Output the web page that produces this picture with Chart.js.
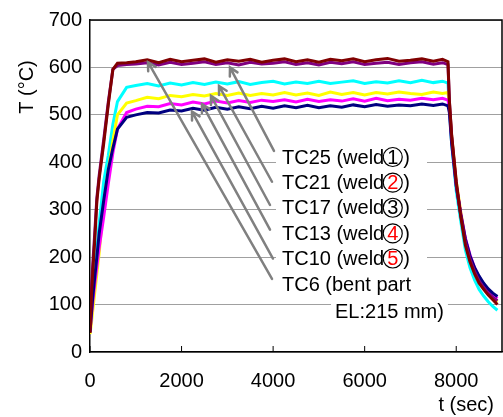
<!DOCTYPE html>
<html>
<head>
<meta charset="utf-8">
<script src="https://cdn.jsdelivr.net/npm/chart.js@4.4.1/dist/chart.umd.min.js"></script>
<style>
  html, body { margin: 0; padding: 0; background: #fff; }
  canvas { display: block; }
</style>
</head>
<body>
<canvas id="tempChart" width="503" height="417"></canvas>
<script>
// time (sec), shared by all thermocouples
const times = [0, 30, 60, 100, 150, 200, 300, 400, 500, 600, 800, 1000,
  1250, 1500, 1750, 2000, 2250, 2500, 2750, 3000, 3250, 3500, 3750, 4000, 4250,
  4500, 4750, 5000, 5250, 5500, 5750, 6000, 6250, 6500, 6750, 7000, 7250, 7500,
  7700, 7820, 7850, 7900, 8000, 8100, 8200, 8300, 8400, 8500, 8600, 8700, 8800, 8900];

// temperatures (deg C)
const tc25 = [40, 118, 168, 230, 318, 365, 440, 522, 596, 609, 610, 612,
  616, 610, 617, 612, 615, 618, 611, 616, 613, 617, 611, 615, 618,
  612, 616, 611, 617, 614, 618, 612, 616, 619, 613, 615, 618, 613,
  617, 612, 530, 458, 360, 285, 225, 190, 165, 145, 132, 120, 110, 100];
const tc6 = [45, 130, 185, 245, 325, 372, 448, 527, 596, 604, 606, 607,
  610, 605, 611, 606, 609, 612, 606, 610, 605, 611, 607, 609, 612,
  606, 610, 605, 611, 608, 612, 606, 609, 611, 606, 610, 612, 607,
  610, 606, 530, 455, 352, 288, 232, 196, 170, 150, 136, 124, 115, 108];
const tc21 = [45, 85, 120, 165, 215, 270, 360, 415, 480, 528, 558, 562,
  566, 561, 567, 563, 568, 564, 569, 565, 570, 564, 568, 571, 565,
  569, 566, 571, 566, 569, 572, 566, 570, 567, 572, 568, 573, 568,
  571, 567, 515, 440, 340, 275, 215, 178, 152, 132, 118, 106, 96, 88];
const tc17 = [38, 60, 88, 122, 165, 208, 316, 385, 445, 500, 525, 530,
  537, 534, 541, 538, 543, 540, 545, 541, 546, 541, 545, 542, 547,
  542, 546, 541, 548, 543, 547, 542, 547, 544, 548, 545, 543, 548,
  545, 547, 520, 455, 360, 295, 238, 200, 172, 152, 137, 125, 115, 106];
const tc13 = [42, 75, 105, 140, 180, 220, 285, 355, 420, 470, 505, 512,
  518, 517, 524, 521, 527, 523, 529, 525, 530, 526, 531, 528, 532,
  527, 533, 528, 532, 529, 534, 529, 535, 530, 533, 531, 535, 532,
  535, 531, 515, 450, 355, 292, 240, 205, 178, 158, 143, 131, 121, 113];
const tc10 = [42, 80, 115, 155, 200, 250, 320, 385, 430, 470, 495, 500,
  505, 504, 510, 508, 514, 510, 516, 512, 517, 513, 518, 514, 519,
  515, 520, 515, 519, 516, 521, 517, 522, 518, 521, 519, 523, 520,
  523, 519, 505, 440, 350, 290, 238, 203, 178, 160, 145, 133, 124, 117];

const xTicks = [0, 2000, 4000, 6000, 8000];

// callouts: arrow head / tail in data units, label rows
const labelText = ['TC25 (weld', 'TC21 (weld', 'TC17 (weld', 'TC13 (weld', 'TC10 (weld', 'TC6 (bent part'];
const labelDigit = ['1', '2', '3', '4', '5', ''];
const digitColor = ['#000', '#f00', '#000', '#f00', '#f00', '#000'];
const labelT = [409, 355, 302, 248, 195, 141];
const labelX = 4194;
const arrowHeadX = [3058, 2818, 2643, 2446, 2228, 1267];
const arrowHeadY = [600, 561, 540, 523, 507, 611];
const arrowTailX = [4019, 3976, 3932, 3932, 3997, 3976];
const arrowTailY = [424, 359, 310, 258, 197, 154];

const FONT = '"Liberation Sans", Arial, sans-serif';
Chart.defaults.font.family = FONT;
Chart.defaults.color = '#000';

const series = [
  { label: 'TC25', color: '#800000', values: tc25 },
  { label: 'TC6', color: '#800080', values: tc6 },
  { label: 'TC10', color: '#000080', values: tc10 },
  { label: 'TC13', color: '#ff00ff', values: tc13 },
  { label: 'TC17', color: '#ffff00', values: tc17 },
  { label: 'TC21', color: '#00ffff', values: tc21 }
];

const overlay = {
  id: 'overlay',
  afterDatasetsDraw(chart) {
    const { ctx, chartArea: a, scales: { x, y } } = chart;
    ctx.save();

    // frame top / right
    ctx.strokeStyle = '#000';
    ctx.lineWidth = 1.5;
    ctx.beginPath();
    ctx.moveTo(a.left, a.top);
    ctx.lineTo(a.right, a.top);
    ctx.lineTo(a.right, a.bottom);
    ctx.stroke();

    // inward x tick marks
    ctx.lineWidth = 1;
    xTicks.forEach(v => {
      const px = x.getPixelForValue(v);
      ctx.beginPath();
      ctx.moveTo(px, a.bottom);
      ctx.lineTo(px, a.bottom - 6);
      ctx.stroke();
    });

    // arrows
    ctx.strokeStyle = '#808080';
    ctx.lineWidth = 2.5;
    ctx.lineCap = 'round';
    for (let i = 0; i < arrowHeadX.length; i++) {
      const hx = x.getPixelForValue(arrowHeadX[i]), hy = y.getPixelForValue(arrowHeadY[i]);
      const tx = x.getPixelForValue(arrowTailX[i]), ty = y.getPixelForValue(arrowTailY[i]);
      const ang = Math.atan2(ty - hy, tx - hx);
      ctx.beginPath();
      ctx.moveTo(tx, ty);
      ctx.lineTo(hx, hy);
      ctx.moveTo(hx + 9 * Math.cos(ang - 0.5), hy + 9 * Math.sin(ang - 0.5));
      ctx.lineTo(hx, hy);
      ctx.lineTo(hx + 9 * Math.cos(ang + 0.5), hy + 9 * Math.sin(ang + 0.5));
      ctx.stroke();
    }

    // labels
    ctx.font = '20px ' + FONT;
    ctx.textBaseline = 'middle';
    const lx = x.getPixelForValue(labelX);
    ctx.fillStyle = '#fff';
    ctx.fillRect(lx - 6, y.getPixelForValue(labelT[0]) - 13, 151, y.getPixelForValue(labelT[5]) - y.getPixelForValue(labelT[0]) + 26);
    const elX = x.getPixelForValue(5352), elY = y.getPixelForValue(84);
    ctx.fillRect(elX - 4, elY - 13, ctx.measureText('EL:215 mm)').width + 8, 26);

    for (let i = 0; i < labelText.length; i++) {
      const ly = y.getPixelForValue(labelT[i]);
      ctx.fillStyle = '#000';
      ctx.textAlign = 'left';
      ctx.fillText(labelText[i], lx, ly);
      if (!labelDigit[i]) continue;
      const w = ctx.measureText(labelText[i]).width;
      const r = 9.5, cx = lx + w + r - 1, cy = ly - 1;
      ctx.strokeStyle = '#000';
      ctx.lineWidth = 1.2;
      ctx.beginPath();
      ctx.arc(cx, cy, r, 0, Math.PI * 2);
      ctx.stroke();
      ctx.textAlign = 'center';
      ctx.fillStyle = digitColor[i];
      ctx.fillText(labelDigit[i], cx, ly);
      ctx.fillStyle = '#000';
      ctx.textAlign = 'left';
      ctx.fillText(')', cx + r + 1, ly);
    }
    ctx.textAlign = 'left';
    ctx.fillStyle = '#000';
    ctx.fillText('EL:215 mm)', elX, elY);

    // axis titles
    ctx.textAlign = 'right';
    ctx.fillText('t (sec)', 494, 405);
    ctx.translate(27, 87);
    ctx.rotate(-Math.PI / 2);
    ctx.textAlign = 'center';
    ctx.fillText('T (\u00B0C)', 0, 0);
    ctx.restore();
  }
};

new Chart(document.getElementById('tempChart'), {
  type: 'line',
  data: {
    datasets: series.map(s => ({
      label: s.label,
      data: times.map((t, i) => ({ x: t, y: s.values[i] })),
      borderColor: s.color,
      borderWidth: 3,
      pointRadius: 0,
      tension: 0,
      fill: false
    }))
  },
  options: {
    responsive: false,
    animation: false,
    layout: { padding: { top: 15, right: 1, left: 0, bottom: 0 } },
    plugins: { legend: { display: false }, tooltip: { enabled: false } },
    scales: {
      x: {
        type: 'linear',
        min: 0,
        max: 9000,
        afterBuildTicks: scale => { scale.ticks = xTicks.map(v => ({ value: v })); },
        afterFit: scale => { scale.height = 65; },
        grid: { display: false, drawTicks: false },
        border: { display: true, color: '#000', width: 1.5 },
        ticks: { font: { size: 20 }, padding: 17, maxRotation: 0, callback: v => String(v) }
      },
      y: {
        min: 0,
        max: 700,
        afterFit: scale => { scale.width = 90; },
        grid: { color: '#a0a0a0', lineWidth: 1, drawTicks: false },
        border: { display: true, color: '#000', width: 1.5 },
        ticks: { stepSize: 100, font: { size: 20 }, padding: 8 }
      }
    }
  },
  plugins: [overlay]
});
</script>
</body>
</html>
